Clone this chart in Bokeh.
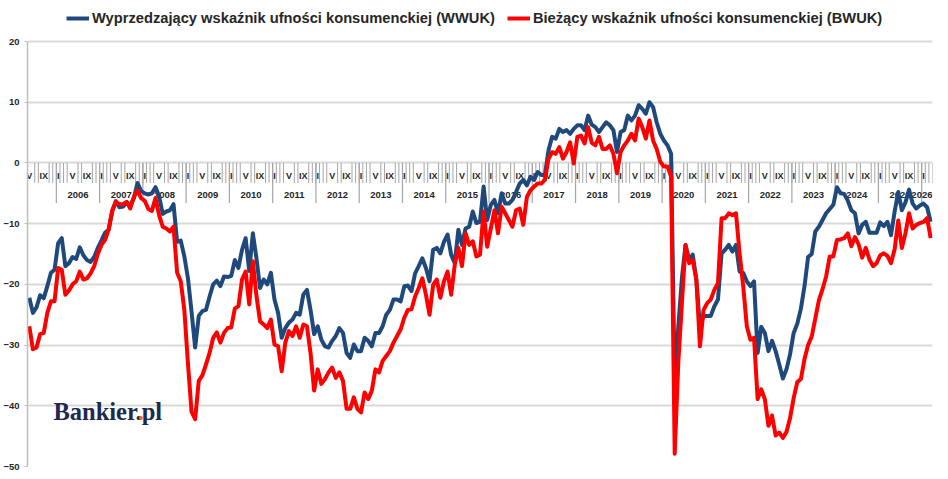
import numpy as np
from bokeh.plotting import figure
from bokeh.models import (ColumnDataSource, Range1d, FixedTicker, Legend, LegendItem, Label)
from bokeh.core.properties import value
from bokeh.embed import file_html
from bokeh.resources import INLINE

# ---------------- data (monthly, from May 2005) ----------------
start_year = 2005
start_month = 5

wwuk = [
    -22.2, -24.7, -23.8, -21.8, -22.3, -20.3, -18.1, -17.6, -13.2, -12.4,
    -17.0, -16.5, -15.5, -15.8, -13.9, -15.2, -16.0, -16.3, -15.5, -14.0,
    -12.8, -11.5, -11.0, -8.0, -6.3, -7.3, -7.2, -6.5, -7.0, -5.8,
    -3.3, -4.6, -5.0, -5.2, -5.0, -4.0, -5.5, -8.4, -8.0, -7.8,
    -6.8, -13.0, -12.8, -15.4, -19.0, -24.5, -30.4, -25.2, -24.4, -24.2,
    -22.0, -20.0, -19.4, -20.3, -18.7, -18.8, -18.6, -16.0, -17.3, -14.3,
    -12.4, -17.8, -11.6, -15.7, -20.6, -19.2, -20.0, -18.1, -22.5, -24.7,
    -28.8, -27.2, -26.3, -25.8, -24.7, -25.0, -21.7, -20.9, -24.2, -28.2,
    -26.9, -29.1, -30.2, -30.4, -29.3, -28.5, -27.2, -28.0, -31.3, -32.1,
    -29.9, -31.0, -31.0, -28.8, -29.3, -30.2, -28.0, -28.0, -26.9, -25.0,
    -24.2, -22.5, -22.5, -22.8, -20.3, -20.2, -21.1, -18.2, -17.0, -15.7,
    -17.3, -19.5, -14.3, -14.0, -14.9, -13.0, -11.8, -15.1, -16.5, -11.0,
    -13.5, -10.8, -10.5, -8.0, -9.9, -9.7, -3.9, -9.4, -6.9, -6.1,
    -8.3, -5.0, -6.7, -6.7, -6.1, -4.8, -3.4, -2.8, -3.7, -2.3,
    -2.8, -1.5, -2.0, -2.0, 2.1, 4.3, 4.0, 5.6, 5.1, 5.4,
    4.8, 5.6, 6.2, 6.2, 5.4, 7.8, 6.3, 5.9, 5.1, 5.9,
    6.7, 6.2, 5.4, 1.8, 5.1, 5.4, 7.8, 7.0, 7.8, 9.5,
    8.9, 8.1, 10.0, 9.2, 6.7, 4.8, 3.7, 2.9, 1.5, -36.7,
    -27.0, -19.0, -13.5, -16.0, -15.1, -19.2, -27.0, -25.2, -25.2, -25.2,
    -23.6, -22.5, -14.9, -14.3, -13.5, -14.6, -13.5, -17.9, -18.1, -19.5,
    -20.3, -19.5, -31.3, -27.0, -28.0, -31.0, -29.3, -31.0, -33.2, -35.5,
    -34.0, -31.5, -28.0, -26.5, -24.0, -20.3, -15.5, -15.0, -11.3, -10.5,
    -9.4, -8.3, -7.6, -6.9, -4.0, -5.0, -5.1, -6.2, -7.8, -8.3,
    -11.6, -10.2, -9.7, -11.5, -11.5, -11.5, -9.8, -10.4, -9.7, -11.9,
    -8.0, -4.8, -7.8, -6.5, -4.4, -6.7, -7.5, -7.0, -6.7, -7.3, -9.7,
]

bwuk = [
    -26.9, -30.7, -30.4, -28.2, -28.0, -24.7, -22.8, -22.8, -17.3, -17.6,
    -21.7, -21.0, -20.0, -19.5, -17.9, -19.2, -19.0, -18.2, -17.0, -15.0,
    -13.5, -12.7, -11.0, -7.8, -6.4, -6.8, -6.8, -6.4, -7.5, -5.6,
    -4.5, -5.8, -6.2, -7.6, -7.9, -5.8, -8.6, -10.5, -10.8, -11.3,
    -10.5, -18.1, -19.5, -24.2, -33.0, -41.0, -42.2, -35.9, -35.0, -33.2,
    -31.3, -28.8, -27.9, -29.6, -28.0, -27.2, -27.1, -24.0, -23.6, -19.2,
    -17.9, -23.3, -16.2, -21.9, -26.1, -26.6, -27.2, -25.8, -29.9, -30.2,
    -34.3, -29.6, -27.7, -28.5, -26.9, -28.8, -26.6, -26.9, -31.3, -37.5,
    -34.0, -36.4, -35.6, -34.5, -33.7, -35.4, -34.5, -35.9, -40.5, -40.5,
    -38.6, -40.5, -41.1, -37.8, -38.9, -37.5, -34.0, -34.5, -32.6, -31.8,
    -31.0, -29.6, -28.5, -27.4, -25.5, -24.2, -24.1, -22.0, -20.6, -19.0,
    -21.7, -25.0, -20.1, -19.2, -22.2, -19.5, -17.9, -21.7, -16.8, -14.0,
    -17.0, -11.6, -13.5, -12.9, -15.4, -15.1, -8.0, -13.8, -10.8, -7.8,
    -11.6, -7.2, -8.3, -9.4, -10.5, -7.8, -7.5, -10.2, -5.6, -4.5,
    -3.9, -3.4, -3.4, -2.8, 0.7, 1.8, 1.5, 2.6, 0.7, 1.8,
    3.4, -0.1, 4.3, 4.5, 3.2, 5.9, 3.3, 2.9, 4.3, 2.3,
    2.3, 2.9, 1.5, -1.7, 1.8, 2.9, 3.7, 4.8, 3.7, 7.3,
    5.9, 4.0, 7.0, 3.7, 2.3, 0.2, -0.6, -0.6, -2.2, -47.9,
    -32.9, -23.1, -13.5, -16.5, -16.0, -19.2, -30.2, -24.2, -23.1, -22.5,
    -20.9, -19.8, -9.1, -9.1, -8.3, -8.6, -8.3, -14.9, -20.3, -26.9,
    -29.1, -28.8, -38.9, -37.3, -38.9, -43.3, -41.6, -44.9, -44.4, -45.3,
    -44.3, -42.0, -38.7, -36.1, -35.6, -32.3, -30.0, -28.6, -25.6, -22.6,
    -20.8, -18.7, -15.4, -15.4, -12.7, -12.6, -12.4, -11.6, -13.7, -12.2,
    -13.4, -15.6, -14.0, -15.9, -17.0, -16.5, -15.2, -14.9, -15.3, -16.5,
    -14.2, -9.5, -14.0, -11.6, -8.3, -10.8, -10.2, -9.9, -9.7, -9.1, -12.4,
]

series_names = [
    "Wyprzedzający wskaźnik ufności konsumenckiej (WWUK)",
    "Bieżący wskaźnik ufności konsumenckiej (BWUK)",
]
month_labels = {1: "I", 5: "V", 9: "IX"}
y_ticks = [-50, -40, -30, -20, -10, 0, 10, 20]
y_min, y_max = -50, 20
brand = "Bankier.pl"

# ---------------- derived ----------------
n = len(wwuk)
idx = list(range(n))
months = [(start_month - 1 + i) % 12 + 1 for i in idx]
years = [start_year + (start_month - 1 + i) // 12 for i in idx]

FONT = "Liberation Sans"
TXT = "#262626"
BLUE = "#1F497D"
RED = "#FF0000"
GRAY = "#a6a6a6"

W, H = 936, 471
TOP_PX = 41          # space above the top gridline (legend area)
BOTTOM = 5
RIGHT = 4
frame_h = H - BOTTOM
ppu = (frame_h - TOP_PX) / (y_max - y_min)
y_top = y_max + TOP_PX / ppu

p = figure(width=W, height=H,
           x_range=Range1d(-0.5, n - 0.5), y_range=Range1d(y_min, y_top),
           x_axis_location=None,
           output_backend="svg", toolbar_location=None,
           min_border_left=22, min_border_right=RIGHT,
           min_border_top=0, min_border_bottom=BOTTOM)
p.outline_line_color = None
p.background_fill_color = "white"
p.border_fill_color = "white"

p.xgrid.visible = False
p.ygrid.ticker = FixedTicker(ticks=y_ticks)
p.ygrid.grid_line_color = "#d9d9d9"
p.ygrid.grid_line_width = 2

ax = p.yaxis[0]
ax.ticker = FixedTicker(ticks=y_ticks)
ax.bounds = (y_min, y_max)
ax.axis_line_color = "#bfbfbf"
ax.axis_line_width = 1.5
ax.major_tick_line_color = "#bfbfbf"
ax.major_tick_out = 3
ax.major_tick_in = 0
ax.minor_tick_line_color = None
ax.major_label_standoff = 5
ax.major_label_text_font = FONT
ax.major_label_text_font_style = "bold"
ax.major_label_text_font_size = "9.5px"
ax.major_label_text_color = TXT

# category axis drawn at zero: month ticks, year separators, labels
lab_i = [i for i in idx if months[i] in month_labels]
wide_lab = set(i for i in lab_i if months[i] != 1)
tick_x = [i - 0.5 for i in idx if i not in wide_lab and (i - 1) not in wide_lab] + [n - 0.5]
p.segment(x0=tick_x, y0=[0] * len(tick_x), x1=tick_x, y1=[-3.3] * len(tick_x),
          line_color=GRAY, line_width=1)
jan = [i for i in idx if months[i] == 1]
sep_x = [i - 0.5 for i in jan]
p.segment(x0=sep_x, y0=[0] * len(sep_x), x1=sep_x, y1=[-6.6] * len(sep_x),
          line_color=GRAY, line_width=1.2)

p.text(x=lab_i, y=[-2.1] * len(lab_i), text=[month_labels[months[i]] for i in lab_i],
       text_align="center", text_baseline="middle",
       text_font=value(FONT), text_font_style="bold", text_font_size="9px",
       text_color=TXT)

yrs = sorted(set(years[i] for i in jan))
yx, yal = [], []
for y in yrs:
    members = [i for i in idx if years[i] == y]
    if len(members) < 6:          # partial last year: keep label inside the plot
        yx.append(n - 0.5)
        yal.append("right")
    else:
        yx.append(float(np.mean(members)))
        yal.append("center")
ysrc = ColumnDataSource(dict(x=yx, y=[-5.2] * len(yrs), t=[str(y) for y in yrs], al=yal))
p.text(x="x", y="y", text="t", source=ysrc, text_align="al", text_baseline="middle",
       text_font=value(FONT), text_font_style="bold", text_font_size="9.5px",
       text_color=TXT)

# data lines
r_b = p.line(idx, wwuk, line_color=BLUE, line_width=4, line_join="round")
r_r = p.line(idx, bwuk, line_color=RED, line_width=4, line_join="round")

legend = Legend(items=[LegendItem(label=series_names[0], renderers=[r_b]),
                       LegendItem(label=series_names[1], renderers=[r_r])],
                orientation="horizontal", location=(39, frame_h - 26),
                label_text_font=FONT, label_text_font_style="bold",
                label_text_font_size="14.7px", label_text_color=TXT,
                glyph_width=23, glyph_height=16, label_standoff=3,
                spacing=12, padding=2, margin=0,
                border_line_color=None, background_fill_alpha=0)
p.add_layout(legend)

# brand logo (navy text with orange dot)
LOGO_SIZE = 24.5
dot_offset = (0.667 + 0.5 + 0.556 + 0.556 + 0.278 + 0.444 + 0.444) * LOGO_SIZE
p.add_layout(Label(x=6.7, y=-41.0, text=brand, text_font="Liberation Serif",
                   text_font_style="bold", text_font_size=f"{LOGO_SIZE}px",
                   text_color="#1b2a4e", text_baseline="alphabetic"))
p.add_layout(Label(x=6.7, y=-41.0, x_offset=dot_offset, text=".", text_font="Liberation Serif",
                   text_font_style="bold", text_font_size=f"{LOGO_SIZE}px",
                   text_color="#f26522", text_baseline="alphabetic"))

open("out.html", "w").write(file_html(p, INLINE))
